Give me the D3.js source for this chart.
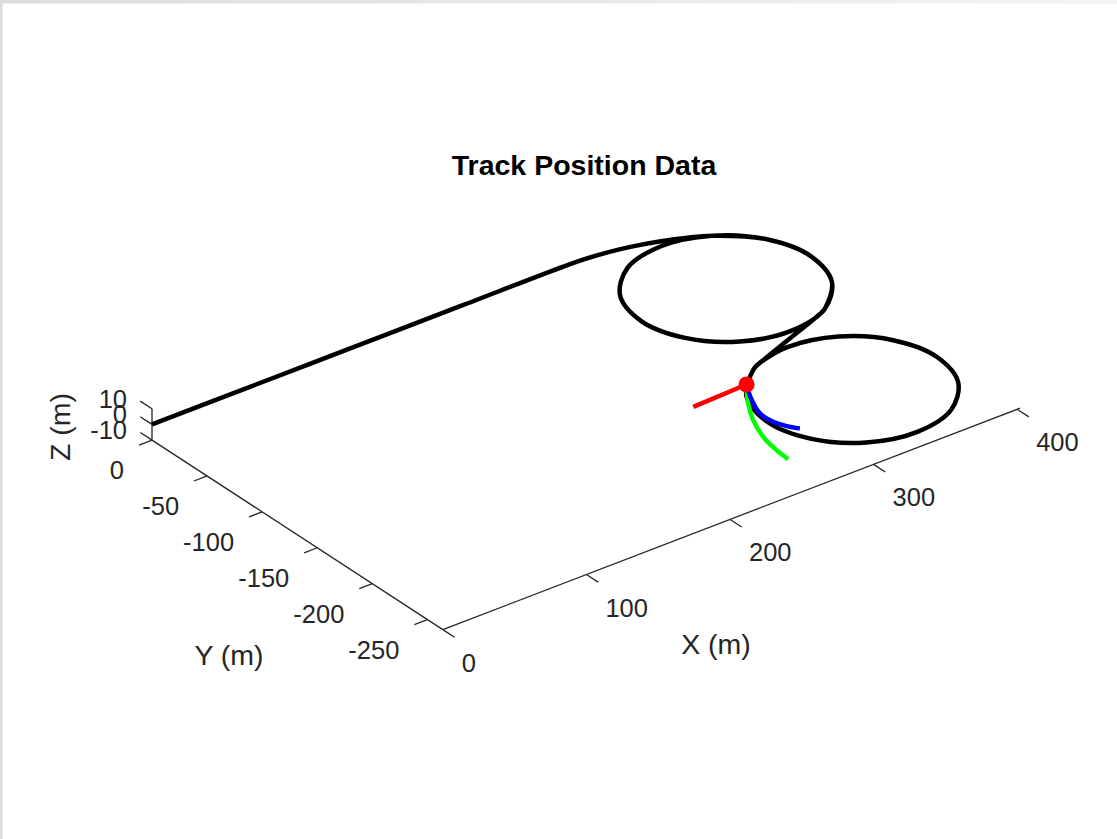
<!DOCTYPE html>
<html>
<head>
<meta charset="utf-8">
<script src="https://cdn.jsdelivr.net/npm/d3@7"></script>
<style>
  html, body { margin: 0; padding: 0; background: #fff; overflow: hidden; }
  text { font-family: "Liberation Sans", Arial, Helvetica, sans-serif; }
</style>
</head>
<body>
<svg id="chart" width="1117" height="839"></svg>
<script>
// ---- view (MATLAB default 3-D view) ----
const viewAzimuth = -37.5;
const viewElevation = 30;

// ---- axis limits and ticks (metres) ----
const xLimits = [0, 402];
const yLimits = [-264, 0];
const zLimits = [-10, 10];
const xTickValues = [0, 100, 200, 300, 400];
const yTickValues = [0, -50, -100, -150, -200, -250];
const zTickValues = [-10, 0, 10];
const xTickLabels = ["0", "100", "200", "300", "400"];
const yTickLabels = ["0", "-50", "-100", "-150", "-200", "-250"];
const zTickLabels = ["-10", "0", "10"];

// ---- track centreline (m), flat at z = 0 ----
const trackX = [0, 72, 144, 216, 287, 301.9, 316.7, 331.3, 345.5, 359.3, 372.5,
  394.1, 402, 394.1, 372.5, 343, 313.5, 291.9, 284, 291.9, 313.5, 343, 372.5,
  394.1, 402, 394.1, 372.5, 364.0, 336.8, 309.5,
  301, 279.4, 271.5, 279.4, 301, 330.5, 360, 381.6, 389.5, 381.6, 360, 330.5, 309.5];
const trackY = [0, 0, 0, 0, 0, -0.7, -2.6, -5.8, -10.3, -16.0, -22.9,
  -44.5, -74, -103.5, -125.1, -133, -125.1, -103.5, -74, -44.5, -22.9, -15, -22.9,
  -44.5, -74, -103.5, -125.1, -129.1, -139.5, -149.9,
  -153.9, -175.5, -205, -234.5, -256.1, -264, -256.1, -234.5, -205, -175.5, -153.9, -146, -149.9];
const trackElevation = 0;

// ---- vehicle position and its three direction traces ----
const vehicleX = 287.5, vehicleY = -165, vehicleZ = 0;
const redX = [287.5, 249.1];
const redY = [-165, -166.7];
const blueX = [287.5, 279.3, 273.9, 274.1, 277.1, 281.3];
const blueY = [-165, -180.4, -194.9, -206.7, -215.0, -221.5];
const greenX = [287.5, 275.5, 266.5, 259.6, 256.5, 255.5];
const greenY = [-165, -182.1, -198.4, -216.5, -232.6, -244.5];

// ---- projection: world (x,y,z) -> view plane (u,v) ----
const az = viewAzimuth * Math.PI / 180, el = viewElevation * Math.PI / 180;
const toU = (x, y) => x * Math.cos(az) + y * Math.sin(az);
const toV = (x, y, z) => -x * Math.sin(az) * Math.sin(el) + y * Math.cos(az) * Math.sin(el) + z * Math.cos(el);

const corners = [];
for (const x of xLimits) for (const y of yLimits) for (const z of zLimits) corners.push([x, y, z]);
const uExt = d3.extent(corners, c => toU(c[0], c[1]));
const vExt = d3.extent(corners, c => toV(c[0], c[1], c[2]));

// equal pixels per unit on both screen directions
const boxLeft = 152, boxRight = 1020, boxBottom = 629.6;
const pxPerUnit = (boxRight - boxLeft) / (uExt[1] - uExt[0]);
const uScale = d3.scaleLinear().domain(uExt).range([boxLeft, boxRight]);
const vScale = d3.scaleLinear().domain(vExt).range([boxBottom, boxBottom - pxPerUnit * (vExt[1] - vExt[0])]);
const project = (x, y, z) => [uScale(toU(x, y)), vScale(toV(x, y, z))];

const svg = d3.select("#chart");
const axisColor = "#262626";

// figure frame edge
const defs = svg.append("defs");
const grad = defs.append("linearGradient").attr("id", "frameTop").attr("x1", 0).attr("x2", 1);
grad.append("stop").attr("offset", 0).attr("stop-color", "#dcdcdc");
grad.append("stop").attr("offset", 1).attr("stop-color", "#f4f4f4");
svg.append("rect").attr("x", 0).attr("y", 0).attr("width", 1117).attr("height", 3.5).attr("fill", "url(#frameTop)");
svg.append("rect").attr("x", 0).attr("y", 0).attr("width", 2.5).attr("height", 839).attr("fill", "#dcdcdc");

const line = d3.line();
const axesG = svg.append("g");

// axis lines
const xAxisPts = [project(xLimits[0], yLimits[0], zLimits[0]), project(xLimits[1], yLimits[0], zLimits[0])];
const yAxisPts = [project(xLimits[0], yLimits[0], zLimits[0]), project(xLimits[0], yLimits[1], zLimits[0])];
const zAxisPts = [project(xLimits[0], yLimits[1], zLimits[0]), project(xLimits[0], yLimits[1], zLimits[1])];
[xAxisPts, yAxisPts, zAxisPts].forEach(p => {
  axesG.append("path").attr("d", line(p)).attr("fill", "none")
    .attr("stroke", axisColor).attr("stroke-width", 1.3);
});

// ticks drawn along a world direction, fixed pixel length
const tickLen = 14;
function tick(base, dir) {
  const p0 = project(...base);
  const p1 = project(base[0] + dir[0], base[1] + dir[1], base[2] + dir[2]);
  const dx = p1[0] - p0[0], dy = p1[1] - p0[1], n = Math.hypot(dx, dy);
  return [p0, [p0[0] + dx / n * tickLen, p0[1] + dy / n * tickLen]];
}
function drawTicks(values, labels, baseFn, dir, lx, ly, anchor) {
  values.forEach((v, i) => {
    const seg = tick(baseFn(v), dir);
    axesG.append("path").attr("d", line(seg)).attr("fill", "none")
      .attr("stroke", axisColor).attr("stroke-width", 1.3);
    axesG.append("text").attr("x", seg[0][0] + lx).attr("y", seg[0][1] + ly)
      .attr("text-anchor", anchor).attr("dominant-baseline", "central")
      .attr("font-size", 25.5).attr("fill", axisColor).text(labels[i]);
  });
}
drawTicks(xTickValues, xTickLabels, v => [v, yLimits[0], zLimits[0]], [0, -1, 0], 19, 33, "start");
drawTicks(yTickValues, yTickLabels, v => [xLimits[0], v, zLimits[0]], [-1, 0, 0], -28, 30, "end");
drawTicks(zTickValues, zTickLabels, v => [xLimits[0], yLimits[1], v], [0, 1, 0], -25, -10, "end");

// axis labels
axesG.append("text").attr("x", 716).attr("y", 644).attr("text-anchor", "middle")
  .attr("dominant-baseline", "central").attr("font-size", 28.5).attr("fill", axisColor).text("X (m)");
axesG.append("text").attr("x", 229).attr("y", 655).attr("text-anchor", "middle")
  .attr("dominant-baseline", "central").attr("font-size", 28.5).attr("fill", axisColor).text("Y (m)");
axesG.append("text").attr("transform", "translate(60,427) rotate(-90)").attr("text-anchor", "middle")
  .attr("dominant-baseline", "central").attr("font-size", 28.5).attr("fill", axisColor).text("Z (m)");

// title
svg.append("text").attr("x", 584).attr("y", 175).attr("text-anchor", "middle")
  .attr("font-size", 28.5).attr("font-weight", "bold").attr("fill", "#000").text("Track Position Data");

// data curves
const smooth = d3.line().curve(d3.curveCatmullRom.alpha(0.5));
const dataG = svg.append("g");
const trackPts = trackX.map((x, i) => project(x, trackY[i], trackElevation));
dataG.append("path").attr("d", smooth(trackPts)).attr("fill", "none")
  .attr("stroke", "#000").attr("stroke-width", 4.5).attr("stroke-linejoin", "round");

const traces = [
  { xs: redX, ys: redY, color: "#ff0000" },
  { xs: greenX, ys: greenY, color: "#00ff00" },
  { xs: blueX, ys: blueY, color: "#0000ff" }
];
traces.forEach(t => {
  const pts = t.xs.map((x, i) => project(x, t.ys[i], vehicleZ));
  dataG.append("path").attr("d", smooth(pts)).attr("fill", "none")
    .attr("stroke", t.color).attr("stroke-width", 4.5).attr("stroke-linejoin", "round");
});

const vp = project(vehicleX, vehicleY, vehicleZ);
dataG.append("circle").attr("cx", vp[0]).attr("cy", vp[1]).attr("r", 8).attr("fill", "#ff0000");
</script>
</body>
</html>
